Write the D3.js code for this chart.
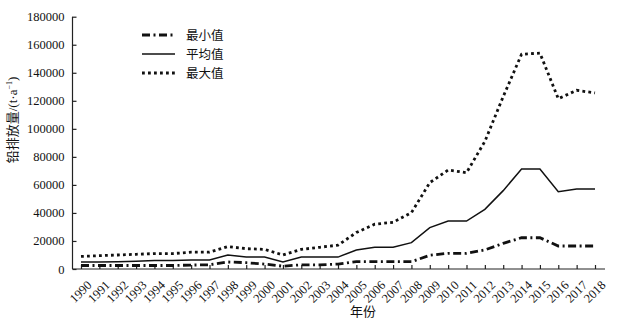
<!DOCTYPE html>
<html><head><meta charset="utf-8">
<script src="https://cdn.jsdelivr.net/npm/d3@7"></script>
<style>
body{margin:0;background:#fff;}
svg{display:block;}
text{fill:#111;}
</style></head>
<body>
<svg id="c" width="636" height="325"></svg>
<script>
const years = [1990,1991,1992,1993,1994,1995,1996,1997,1998,1999,2000,2001,2002,2003,2004,2005,2006,2007,2008,2009,2010,2011,2012,2013,2014,2015,2016,2017,2018];
const minValues = [2500,2500,2500,2500,2500,2500,2800,3000,5000,4500,3500,2000,3000,3000,3500,5200,5200,5200,5200,9800,11200,11200,13600,18300,22300,22300,16400,16400,16400];
const meanValues = [5000,5000,5200,5500,6000,6000,6500,6500,10000,8500,8500,5000,8500,8500,8500,13600,15500,15500,18800,29500,34200,34200,42600,55900,71300,71300,55200,57000,57000];
const maxValues = [9000,9500,10000,10500,11000,11000,12000,12000,16000,14500,14000,10000,14000,15500,17000,26000,32000,33300,40200,61600,70600,68700,91000,123000,153200,154000,121500,127500,125600];
const yTicks = [0,20000,40000,60000,80000,100000,120000,140000,160000,180000];
const seriesNames = ["最小值","平均值","最大值"];
const xTitle = "年份";

const svg = d3.select("#c");
const x = d3.scalePoint().domain(years).range([81,595]);
const y = d3.scaleLinear().domain([0,180000]).range([269,16.7]);
const serif = "'Liberation Serif','Times New Roman',serif";
const cjk = "'Noto Sans CJK SC',sans-serif";

// axes lines
const ax = svg.append("g").attr("stroke","#222").attr("stroke-width",1.2);
ax.append("line").attr("x1",72.5).attr("x2",72.5).attr("y1",y(180000)).attr("y2",y(0));
ax.append("line").attr("x1",72.5).attr("x2",605).attr("y1",y(0)).attr("y2",y(0));

// y axis
const yAxis = d3.axisLeft(y).tickValues(yTicks).tickSize(-4).tickPadding(8).tickFormat(d3.format("d"));
const yg = svg.append("g").attr("transform","translate(72.5,0)").call(yAxis);
yg.select(".domain").remove();
yg.selectAll("line").attr("stroke","#222").attr("stroke-width",1.2);
yg.selectAll("text").attr("font-family",serif).attr("font-size",12.5).attr("fill","#111");

// x axis
const xAxis = d3.axisBottom(x).tickSize(-4).tickPadding(4);
const xg = svg.append("g").attr("transform",`translate(0,${y(0)})`).call(xAxis);
xg.select(".domain").remove();
xg.selectAll("line").attr("stroke","#222").attr("stroke-width",1.2);
xg.selectAll("text").attr("font-family",serif).attr("font-size",12.5).attr("fill","#111")
  .attr("text-anchor","end").attr("dy","0.35em")
  .attr("transform","translate(5,11) rotate(-45)");

// titles
const yt = svg.append("text").attr("transform","translate(17,120) rotate(-90)")
  .attr("text-anchor","middle").attr("font-size",13);
yt.append("tspan").attr("font-family",cjk).text("铅排放量");
yt.append("tspan").attr("font-family",serif).text("/(t·a");
yt.append("tspan").attr("font-family",serif).attr("font-size",8).attr("dy",-5).text("−1");
yt.append("tspan").attr("font-family",serif).attr("dy",5).text(")");
svg.append("text").attr("x",363).attr("y",316).attr("text-anchor","middle")
  .attr("font-family",cjk).attr("font-size",13).text(xTitle);

// lines
const styles = [
  {vals:minValues, w:2.8, dash:"8,3.5,2,3.5", cap:"butt"},
  {vals:meanValues, w:1.5, dash:null, cap:"butt"},
  {vals:maxValues, w:2.8, dash:"2.8,3.2", cap:"butt"}
];
const line = d3.line().x((d,i)=>x(years[i])).y(d=>y(d));
styles.forEach(s=>{
  svg.append("path").datum(s.vals).attr("d",line).attr("fill","none")
    .attr("stroke","#111").attr("stroke-width",s.w).attr("stroke-dasharray",s.dash)
    .attr("stroke-linecap",s.cap).attr("stroke-linejoin","miter");
});

// legend
const lg = svg.append("g");
seriesNames.forEach((n,i)=>{
  const yy = 35 + i*19;
  const s = styles[i];
  lg.append("line").attr("x1",142).attr("x2",175).attr("y1",yy).attr("y2",yy)
    .attr("stroke","#111").attr("stroke-width",s.w).attr("stroke-dasharray",s.dash);
  lg.append("text").attr("x",186).attr("y",yy).attr("dy","0.36em")
    .attr("font-family",cjk).attr("font-size",12.5).text(n);
});
</script>
</body></html>
